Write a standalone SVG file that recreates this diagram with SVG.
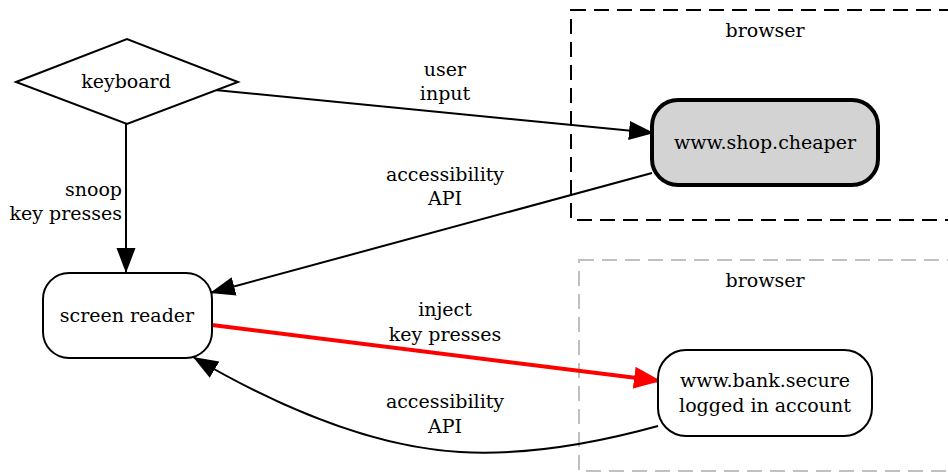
<svg xmlns="http://www.w3.org/2000/svg" width="948" height="472" viewBox="0 0 948 472">
  <style>
    text { font-family: 'DejaVu Serif', serif; font-size: 19px; fill: #000; }
    .c { text-anchor: middle; }
    .r { text-anchor: end; }
    .node { fill: #fff; stroke: #000; stroke-width: 2; }
    .edge { fill: none; stroke: #000; stroke-width: 2; }
    .cluster { fill: none; stroke-width: 2; stroke-dasharray: 15 8; }
  </style>
  <defs>
    <marker id="arrow" markerUnits="userSpaceOnUse" markerWidth="26" markerHeight="20" refX="25" refY="9.5" orient="auto" viewBox="0 0 26 20">
      <path d="M0,0 L25,9.5 L0,19 z" fill="#000"/>
    </marker>
    <marker id="arrow-red" markerUnits="userSpaceOnUse" markerWidth="28" markerHeight="23" refX="27" refY="11" orient="auto" viewBox="0 0 28 23">
      <path d="M0,0 L27,11 L0,22 z" fill="#f00"/>
    </marker>
  </defs>

  <!-- clusters -->
  <g id="cluster-shop">
    <rect class="cluster" x="571" y="10" width="400" height="210" stroke="#000"/>
    <text class="c" x="765" y="37">browser</text>
  </g>
  <g id="cluster-bank">
    <rect class="cluster" x="579" y="260" width="400" height="211" stroke="#c0c0c0"/>
    <text class="c" x="765" y="287">browser</text>
  </g>

  <!-- connectors -->
  <g id="edges">
    <path class="edge" d="M126,124 L126,273" marker-end="url(#arrow)"/>
    <text class="r" x="122" y="196">snoop</text>
    <text class="r" x="122" y="220">key presses</text>

    <path class="edge" d="M215,90 L654,133" marker-end="url(#arrow)"/>
    <text class="c" x="445" y="76">user</text>
    <text class="c" x="445" y="100">input</text>

    <path class="edge" d="M652,173 L210,293" marker-end="url(#arrow)"/>
    <text class="c" x="445" y="181">accessibility</text>
    <text class="c" x="445" y="205">API</text>

    <path class="edge" d="M212,325 L661,381" style="stroke:#f00;stroke-width:4" marker-end="url(#arrow-red)"/>
    <text class="c" x="445" y="316">inject</text>
    <text class="c" x="445" y="341">key presses</text>

    <path class="edge" d="M658,426 C600,442 530,456 460,452 C390,448 300,420 193,357" marker-end="url(#arrow)"/>
    <text class="c" x="445" y="408">accessibility</text>
    <text class="c" x="445" y="433">API</text>
  </g>

  <!-- nodes -->
  <g id="keyboard">
    <polygon class="node" points="16,82 127,39 238,82 127,124"/>
    <text class="c" x="126" y="88">keyboard</text>
  </g>
  <g id="screen-reader">
    <rect class="node" x="43" y="273" width="169" height="85" rx="26" ry="26"/>
    <text class="c" x="127" y="322">screen reader</text>
  </g>
  <g id="shop">
    <rect class="node" x="652" y="100" width="226" height="85" rx="26" ry="26" style="fill:#d3d3d3;stroke-width:4"/>
    <text class="c" x="765" y="149">www.shop.cheaper</text>
  </g>
  <g id="bank">
    <rect class="node" x="658" y="350" width="214" height="86" rx="28" ry="28"/>
    <text class="c" x="765" y="387">www.bank.secure</text>
    <text class="c" x="765" y="412">logged in account</text>
  </g>
</svg>
